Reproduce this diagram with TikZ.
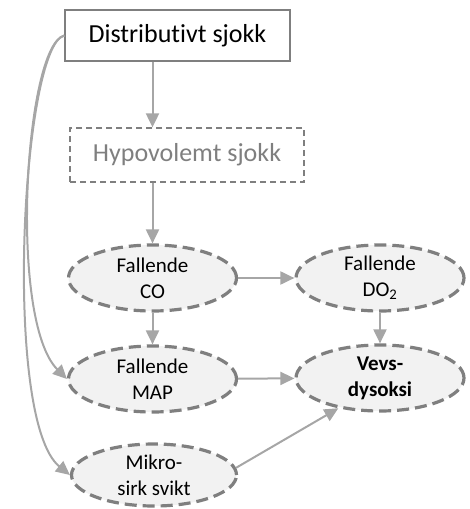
\documentclass[tikz,border=0pt]{standalone}
\usepackage{fontspec}
\setmainfont{Carlito}[Ligatures={NoCommon}]
\usetikzlibrary{arrows.meta,shapes.geometric}

\definecolor{edgegray}{HTML}{7F7F7F}
\definecolor{arrowgray}{HTML}{A6A6A6}
\definecolor{fillgray}{HTML}{F2F2F2}

\tikzset{
  causebox/.style={draw=edgegray, line width=1.3pt, minimum width=225pt, minimum height=51pt,
    font=\fontsize{26}{31}\selectfont},
  ghostbox/.style={causebox, dashed, dash pattern=on 6pt off 4pt, text=edgegray,
    minimum width=234pt, minimum height=54pt},
  effect/.style={ellipse, draw=edgegray, fill=fillgray, line width=3.2pt,
    dash pattern=on 12pt off 6pt, minimum width=168pt, minimum height=66pt, inner sep=0pt,
    align=center, font=\fontsize{21}{26}\selectfont},
  link/.style={draw=arrowgray, line width=2pt, -{Triangle[length=14pt, width=13pt]}}
}

\begin{document}
\begin{tikzpicture}[x=1pt, y=-1pt]

\useasboundingbox (0,0) rectangle (469,509);

\node[causebox] (dist) at (177.5,35.5) {Distributivt sjokk};
\node[ghostbox] (hypo) at (187,155)    {Hypovolemt sjokk};

\node[effect] (co)    at (152.5,278) {Fallende\\CO};
\node[effect] (do)    at (380,278)   {Fallende\\DO\textsubscript{2}};
\node[effect] (map)   at (152.5,379) {Fallende\\MAP};
\node[effect] (vevs)  at (380,378)   {\textbf{Vevs-}\\\textbf{dysoksi}};
\node[effect, minimum width=165pt, minimum height=62pt] (mikro) at (154,475) {Mikro-\\sirk svikt};

\draw[link] (dist.south -| co.north) -- (hypo.north -| co.north);
\draw[link] (hypo.south -| co.north) -- (co.north);
\draw[link] (co) -- (do);
\draw[link] (co) -- (map);
\draw[link] (do) -- (vevs);
\draw[link] (map) -- (vevs);
\draw[link] (mikro.5) -- (vevs.216);

% from the distributive shock straight down the left side
\draw[link] (dist.west) .. controls (25,45) and (8,320) .. (map.west);
\draw[link] (dist.west) .. controls (22,45) and (2,420) .. (mikro.west);

\end{tikzpicture}
\end{document}
